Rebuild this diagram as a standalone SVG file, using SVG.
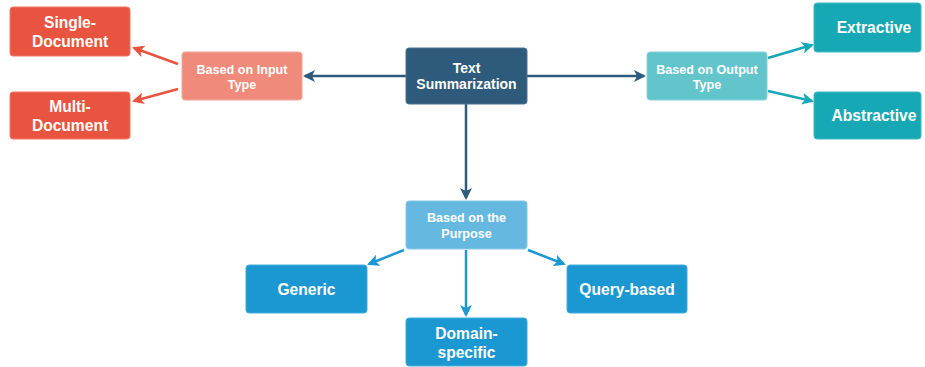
<svg xmlns="http://www.w3.org/2000/svg" width="925" height="367" viewBox="0 0 925 367">
  <style>
    .box { stroke-width: 1; rx: 3; }
    .big { font-family: "Liberation Sans", Arial, sans-serif; font-weight: bold; font-size: 15.6px; fill: #ffffff; text-anchor: middle; }
    .root { font-family: "Liberation Sans", Arial, sans-serif; font-weight: bold; font-size: 14px; fill: #ffffff; text-anchor: middle; }
    .small { font-family: "Liberation Sans", Arial, sans-serif; font-weight: bold; font-size: 12.6px; fill: #ffffff; text-anchor: middle; }
    .edge { fill: none; stroke-width: 2.5; }
  </style>
  <defs>
    <marker id="ah-dark" viewBox="0 0 12 12" refX="10" refY="6" markerWidth="12" markerHeight="12" markerUnits="userSpaceOnUse" orient="auto">
      <path d="M0,0 L12,6 L0,12 L3,6 z" fill="#2e5a7c"/>
    </marker>
    <marker id="ah-red" viewBox="0 0 12 12" refX="10" refY="6" markerWidth="12" markerHeight="12" markerUnits="userSpaceOnUse" orient="auto">
      <path d="M0,0 L12,6 L0,12 L3,6 z" fill="#e8543f"/>
    </marker>
    <marker id="ah-teal" viewBox="0 0 12 12" refX="10" refY="6" markerWidth="12" markerHeight="12" markerUnits="userSpaceOnUse" orient="auto">
      <path d="M0,0 L12,6 L0,12 L3,6 z" fill="#16a8b5"/>
    </marker>
    <marker id="ah-blue" viewBox="0 0 12 12" refX="10" refY="6" markerWidth="12" markerHeight="12" markerUnits="userSpaceOnUse" orient="auto">
      <path d="M0,0 L12,6 L0,12 L3,6 z" fill="#1b98d2"/>
    </marker>
  </defs>

  <rect width="925" height="367" fill="#ffffff"/>

  <!-- connectors -->
  <g id="connectors">
    <line class="edge" x1="406" y1="76" x2="305" y2="76" stroke="#2e5a7c" marker-end="url(#ah-dark)"/>
    <line class="edge" x1="527" y1="76" x2="644" y2="76" stroke="#2e5a7c" marker-end="url(#ah-dark)"/>
    <line class="edge" x1="466" y1="104" x2="466" y2="198" stroke="#2e5a7c" marker-end="url(#ah-dark)"/>

    <line class="edge" x1="178" y1="64" x2="134" y2="48" stroke="#e8543f" marker-end="url(#ah-red)"/>
    <line class="edge" x1="178" y1="89" x2="134" y2="101" stroke="#e8543f" marker-end="url(#ah-red)"/>

    <line class="edge" x1="768" y1="58" x2="812" y2="45" stroke="#16a8b5" marker-end="url(#ah-teal)"/>
    <line class="edge" x1="768" y1="91" x2="812" y2="101" stroke="#16a8b5" marker-end="url(#ah-teal)"/>

    <line class="edge" x1="404" y1="250" x2="369" y2="264" stroke="#1b98d2" marker-end="url(#ah-blue)"/>
    <line class="edge" x1="528" y1="250" x2="564" y2="264" stroke="#1b98d2" marker-end="url(#ah-blue)"/>
    <line class="edge" x1="466" y1="250" x2="466" y2="315" stroke="#1b98d2" marker-end="url(#ah-blue)"/>
  </g>

  <!-- root -->
  <g id="text-summarization">
    <rect class="box" x="406" y="48" width="121" height="56" fill="#2e5a7c" stroke="#4a7494"/>
    <text class="root" x="466.5" y="73">Text</text>
    <text class="root" x="466.5" y="89">Summarization</text>
  </g>

  <!-- input type branch -->
  <g id="based-on-input-type">
    <rect class="box" x="182" y="52" width="120" height="48" fill="#f08b7b" stroke="#f4a598"/>
    <text class="small" x="242" y="74">Based on Input</text>
    <text class="small" x="242" y="89">Type</text>
  </g>
  <g id="single-document">
    <rect class="box" x="10" y="7" width="120" height="49" fill="#e8543f" stroke="#ee7a69"/>
    <text class="big" x="70" y="28">Single-</text>
    <text class="big" x="70" y="47">Document</text>
  </g>
  <g id="multi-document">
    <rect class="box" x="10" y="92" width="120" height="47" fill="#e8543f" stroke="#ee7a69"/>
    <text class="big" x="70" y="112">Multi-</text>
    <text class="big" x="70" y="131">Document</text>
  </g>

  <!-- output type branch -->
  <g id="based-on-output-type">
    <rect class="box" x="647" y="52" width="120" height="48" fill="#62c5cc" stroke="#82d2d8"/>
    <text class="small" x="707" y="74">Based on Output</text>
    <text class="small" x="707" y="89">Type</text>
  </g>
  <g id="extractive">
    <rect class="box" x="814" y="3" width="107" height="49" fill="#16a8b5" stroke="#40b9c3"/>
    <text class="big" x="874" y="33">Extractive</text>
  </g>
  <g id="abstractive">
    <rect class="box" x="814" y="92" width="107" height="47" fill="#16a8b5" stroke="#40b9c3"/>
    <text class="big" x="874" y="121">Abstractive</text>
  </g>

  <!-- purpose branch -->
  <g id="based-on-the-purpose">
    <rect class="box" x="406" y="201" width="121" height="48" fill="#65b9e0" stroke="#86c8e7"/>
    <text class="small" x="466.5" y="222">Based on the</text>
    <text class="small" x="466.5" y="238">Purpose</text>
  </g>
  <g id="generic">
    <rect class="box" x="246" y="265" width="121" height="48" fill="#1b98d2" stroke="#45acdc"/>
    <text class="big" x="306.5" y="295">Generic</text>
  </g>
  <g id="query-based">
    <rect class="box" x="567" y="265" width="120" height="48" fill="#1b98d2" stroke="#45acdc"/>
    <text class="big" x="627" y="295">Query-based</text>
  </g>
  <g id="domain-specific">
    <rect class="box" x="406" y="318" width="121" height="48" fill="#1b98d2" stroke="#45acdc"/>
    <text class="big" x="466.5" y="339">Domain-</text>
    <text class="big" x="466.5" y="358">specific</text>
  </g>
</svg>
